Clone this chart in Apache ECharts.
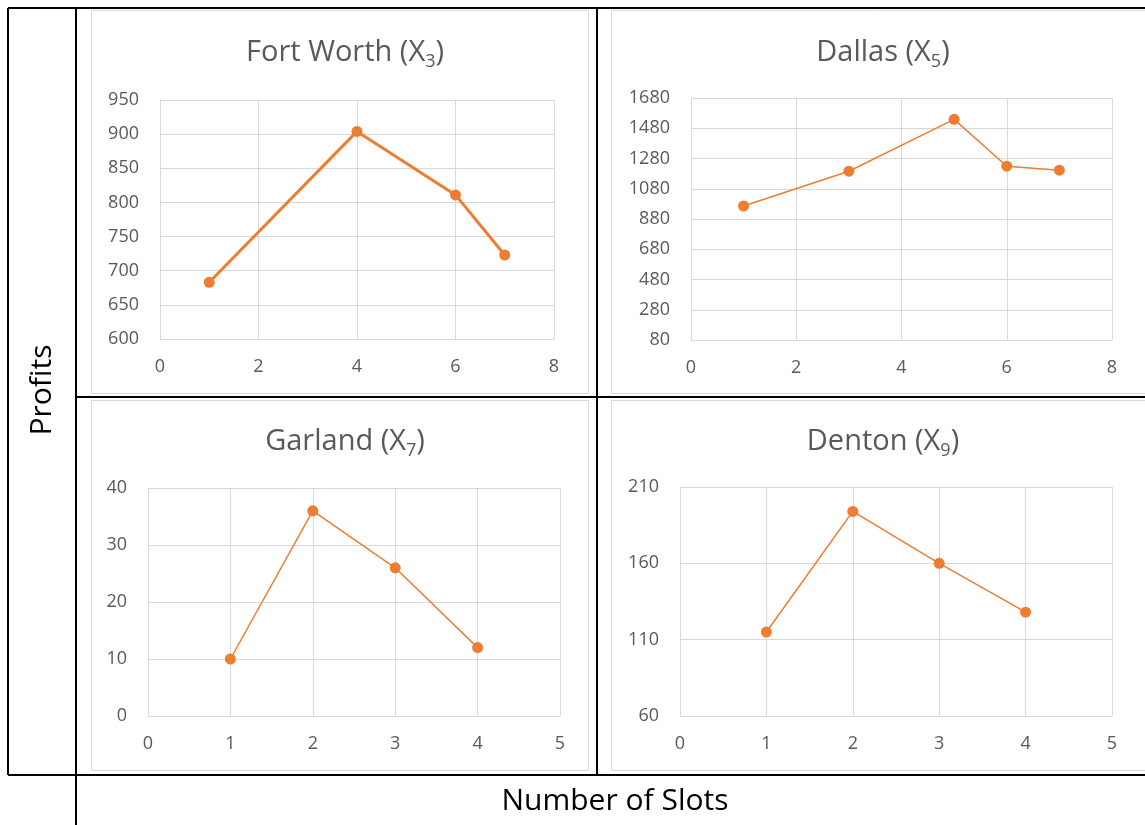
<!DOCTYPE html>
<html><head><meta charset="utf-8">
<script src="https://cdn.jsdelivr.net/npm/echarts@6/dist/echarts.min.js"></script>
<style>html,body{margin:0;padding:0;background:#fff}#c{width:1145px;height:825px}</style>
</head><body><div id="c"></div>
<script>
// Data
const fwX = [1, 4, 6, 7];
const fwY = [683, 904, 811, 723];
const daX = [1, 3, 5, 6, 7];
const daY = [966, 1196, 1539, 1229, 1203];
const gaX = [1, 2, 3, 4];
const gaY = [10, 36, 26, 12];
const deX = [1, 2, 3, 4];
const deY = [115, 194, 160, 128];
const titles = [['Fort Worth (X', '3', ')'], ['Dallas (X', '5', ')'], ['Garland (X', '7', ')'], ['Denton (X', '9', ')']];
const yRanges = [[600, 950, 50], [80, 1680, 200], [0, 40, 10], [60, 210, 50]];
const xRanges = [[0, 8, 2], [0, 8, 2], [0, 5, 1], [0, 5, 1]];

const FONT = '"Open Sans", "Noto Sans", sans-serif';
const TXT = '#595959';
const GRIDC = '#d9d9d9';
const ORANGE = '#ED7D31';

const grids = [
  {left: 160, top: 100, width: 394, height: 239},
  {left: 691, top: 98, width: 421, height: 242},
  {left: 148, top: 488, width: 412, height: 228},
  {left: 680, top: 487, width: 432, height: 229}
];
const titlePos = [[340, 30], [878, 30], [340, 419], [878, 419]];
const seriesData = [[fwX, fwY], [daX, daY], [gaX, gaY], [deX, deY]];
const lineWidths = [3, 1.5, 1.5, 1.5];

const chart = echarts.init(document.getElementById('c'), null, {renderer: 'canvas'});

const option = {
  backgroundColor: '#fff',
  animation: false,
  title: titles.map((t, i) => ({
    text: t[0] + '{s|' + t[1] + '}' + t[2],
    left: titlePos[i][0], top: titlePos[i][1], textAlign: 'center',
    textStyle: {
      fontFamily: FONT, fontSize: 29, fontWeight: 'normal', color: TXT,
      rich: {s: {fontFamily: FONT, fontSize: 18, color: TXT, padding: [18, 0, 0, 0]}}
    }
  })),
  grid: grids.map(g => Object.assign({containLabel: false}, g)),
  xAxis: xRanges.map((r, i) => ({
    type: 'value', gridIndex: i, min: r[0], max: r[1], interval: r[2],
    axisLine: {show: true, lineStyle: {color: GRIDC, width: 1}},
    axisTick: {show: false},
    splitLine: {show: true, lineStyle: {color: GRIDC, width: 1}},
    axisLabel: {color: TXT, fontFamily: FONT, fontSize: 18, margin: 19}
  })),
  yAxis: yRanges.map((r, i) => ({
    type: 'value', gridIndex: i, min: r[0], max: r[1], interval: r[2],
    axisLine: {show: true, lineStyle: {color: GRIDC, width: 1}},
    axisTick: {show: false},
    splitLine: {show: true, lineStyle: {color: GRIDC, width: 1}},
    axisLabel: {color: TXT, fontFamily: FONT, fontSize: 18, margin: 21, formatter: v => String(v)}
  })),
  series: seriesData.map((d, i) => ({
    type: 'line', xAxisIndex: i, yAxisIndex: i,
    data: d[0].map((x, k) => [x, d[1][k]]),
    symbol: 'circle', symbolSize: 11, showSymbol: true,
    lineStyle: {color: ORANGE, width: lineWidths[i]},
    itemStyle: {color: ORANGE}
  })),
  graphic: [
    // panel borders
    {type: 'rect', shape: {x: 91.5, y: 10.5, width: 497, height: 383}, style: {fill: 'none', stroke: GRIDC, lineWidth: 1}},
    {type: 'rect', shape: {x: 611.5, y: 10.5, width: 540, height: 383}, style: {fill: 'none', stroke: GRIDC, lineWidth: 1}},
    {type: 'rect', shape: {x: 91.5, y: 400.5, width: 497, height: 370}, style: {fill: 'none', stroke: GRIDC, lineWidth: 1}},
    {type: 'rect', shape: {x: 611.5, y: 400.5, width: 540, height: 370}, style: {fill: 'none', stroke: GRIDC, lineWidth: 1}},
    // table lines
    {type: 'line', shape: {x1: 8, y1: 8, x2: 1145, y2: 8}, style: {stroke: '#000', lineWidth: 2}},
    {type: 'line', shape: {x1: 8, y1: 8, x2: 8, y2: 775}, style: {stroke: '#000', lineWidth: 2}},
    {type: 'line', shape: {x1: 76, y1: 8, x2: 76, y2: 825}, style: {stroke: '#000', lineWidth: 2}},
    {type: 'line', shape: {x1: 597, y1: 8, x2: 597, y2: 775}, style: {stroke: '#000', lineWidth: 2}},
    {type: 'line', shape: {x1: 76, y1: 397, x2: 1145, y2: 397}, style: {stroke: '#000', lineWidth: 2}},
    {type: 'line', shape: {x1: 8, y1: 775, x2: 1145, y2: 775}, style: {stroke: '#000', lineWidth: 2}},
    // labels
    {type: 'text', x: 42, y: 390, rotation: Math.PI / 2,
     style: {text: 'Profits', fontFamily: FONT, fontSize: 30, fill: '#000', align: 'center', verticalAlign: 'middle'}},
    {type: 'text', x: 615, y: 801,
     style: {text: 'Number of Slots', fontFamily: FONT, fontSize: 30, fill: '#000', align: 'center', verticalAlign: 'middle'}}
  ]
};
chart.setOption(option);
</script>
</body></html>
